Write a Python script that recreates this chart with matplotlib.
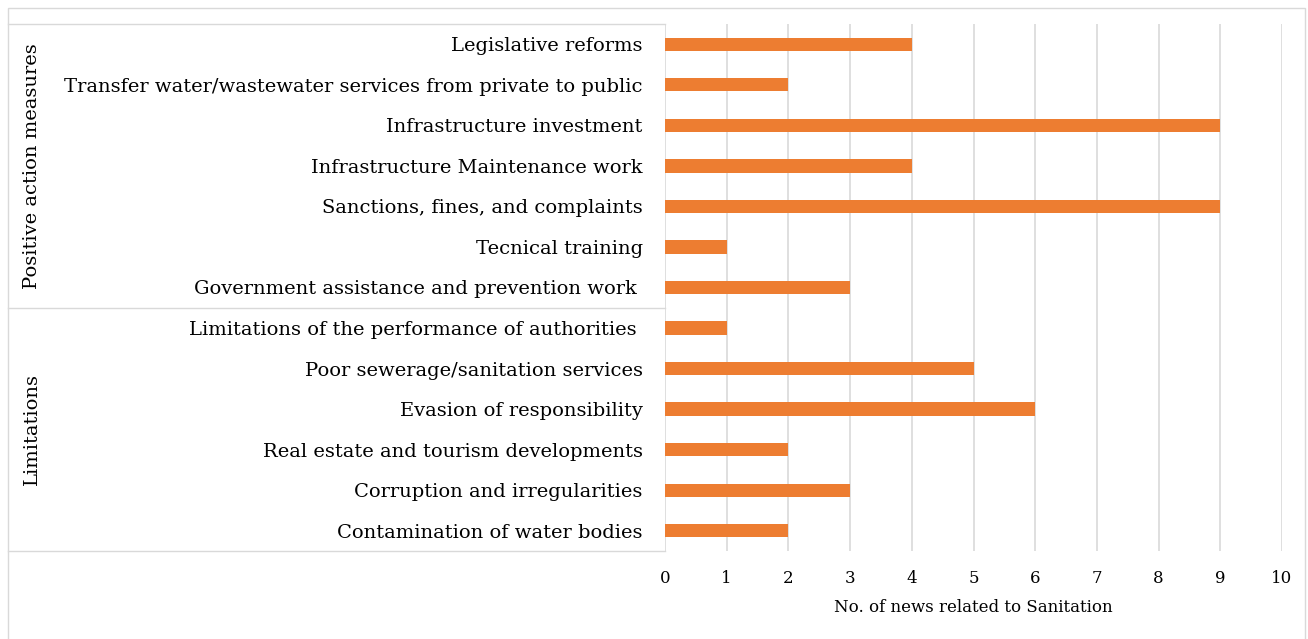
import numpy as np
import matplotlib.pyplot as plt
from matplotlib.lines import Line2D
from matplotlib.patches import Rectangle

plt.rcParams['font.family'] = ['DejaVu Serif']

categories = ['Legislative reforms',
              'Transfer water/wastewater services from private to public',
              'Infrastructure investment',
              'Infrastructure Maintenance work',
              'Sanctions, fines, and complaints',
              'Tecnical training',
              'Government assistance and prevention work ',
              'Limitations of the performance of authorities ',
              'Poor sewerage/sanitation services',
              'Evasion of responsibility',
              'Real estate and tourism developments',
              'Corruption and irregularities',
              'Contamination of water bodies']
counts = [4, 2, 9, 4, 9, 1, 3, 1, 5, 6, 2, 3, 2]
groups = ['Positive action measures', 'Limitations']
group_sizes = [7, 6]

W, H = 1308, 639
fig = plt.figure(figsize=(W / 100, H / 100), dpi=100)
ax = fig.add_axes([665 / W, 1 - 551 / H, (1282 - 665) / W, (551 - 24) / H])

y = np.arange(len(categories))
ax.barh(y, counts, height=0.33, color='#ED7D31', zorder=3)
ax.set_ylim(len(categories) - 0.5, -0.5)
ax.set_xlim(0, 10)
ax.set_xticks(range(0, 11))
ax.set_yticks(y)
ax.set_yticklabels(categories, fontsize=14)
ax.tick_params(axis='y', length=0, pad=16)
ax.tick_params(axis='x', length=0, pad=14, labelsize=12)
ax.set_xlabel('No. of news related to Sanitation', fontsize=12, labelpad=8)
ax.grid(axis='x', color='#D9D9D9', linewidth=1.2, zorder=0)
for s in ax.spines.values():
    s.set_visible(False)

# outer frame
fig.add_artist(Rectangle((8 / W, -0.05), (1305 - 8) / W, 1 - 8 / H + 0.05,
                         transform=fig.transFigure, fill=False,
                         edgecolor='#D9D9D9', linewidth=1))

# category box lines (top, group divider, bottom)
lc = '#D9D9D9'
for py in [24, 308, 551]:
    fig.add_artist(Line2D([8 / W, 665 / W], [1 - py / H, 1 - py / H],
                          color=lc, linewidth=1))

# rotated group labels
start = 0
for g, n in zip(groups, group_sizes):
    yc = start + (n - 1) / 2
    ax.annotate(g, xy=(32 / W, yc), xycoords=('figure fraction', 'data'),
                rotation=90, ha='center', va='center', fontsize=14,
                annotation_clip=False)
    start += n

fig.savefig('out.png', dpi=100)
